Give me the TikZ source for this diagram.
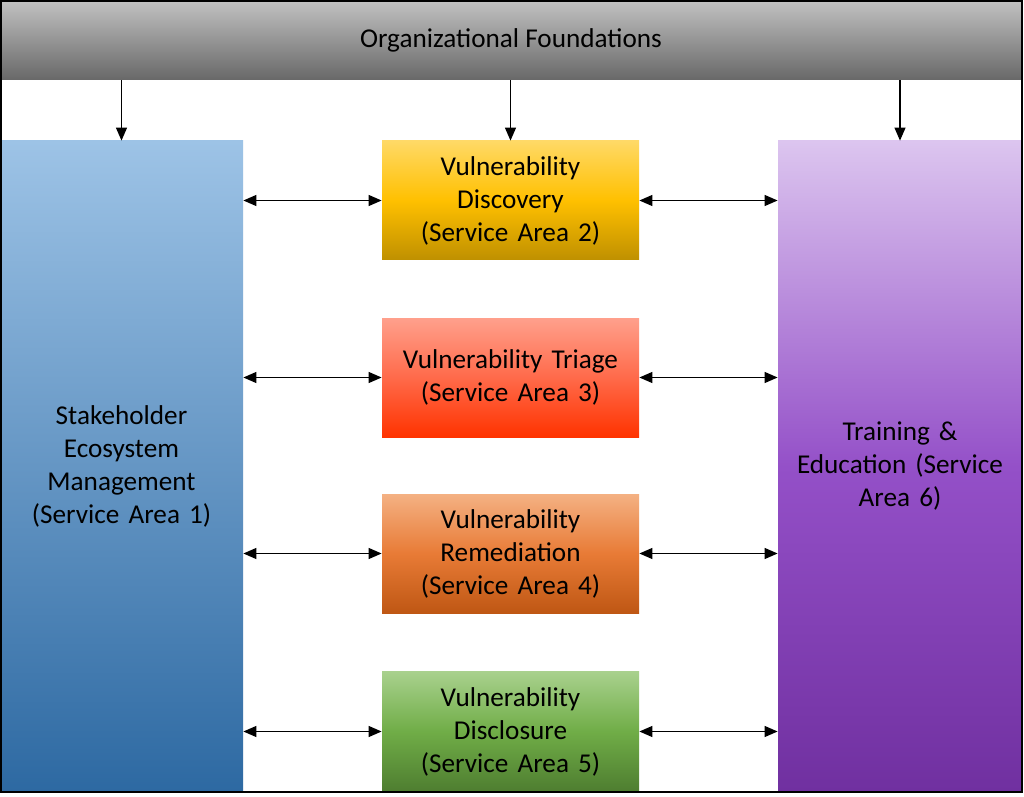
\documentclass[tikz,border=0pt]{standalone}
\usepackage{fontspec}
\setmainfont{Carlito}
\usetikzlibrary{arrows.meta, positioning}
\definecolor{barTop}{HTML}{C2C2C2}
\definecolor{barBot}{HTML}{686868}
\definecolor{blueTop}{HTML}{9DC3E6}
\definecolor{blueBot}{HTML}{2D69A2}
\definecolor{purpTop}{HTML}{DCC5EF}
\definecolor{purpMid}{HTML}{9450C8}
\definecolor{purpBot}{HTML}{7030A0}
\definecolor{yelTop}{HTML}{FFD966}
\definecolor{yelMid}{HTML}{FFC000}
\definecolor{yelBot}{HTML}{BF9000}
\definecolor{redTop}{HTML}{FFA08C}
\definecolor{redMid}{HTML}{FF6A4A}
\definecolor{redBot}{HTML}{FF3300}
\definecolor{oraTop}{HTML}{F4B183}
\definecolor{oraMid}{HTML}{E87B36}
\definecolor{oraBot}{HTML}{BF5714}
\definecolor{grnTop}{HTML}{A9D18E}
\definecolor{grnMid}{HTML}{70AD47}
\definecolor{grnBot}{HTML}{4E7D30}
\tikzstyle{area} = [rectangle, inner sep=2pt, text centered, align=center, font=\fontsize{13.6pt}{16.5pt}\selectfont]
\tikzstyle{sidearea} = [area, minimum width=121.5pt, minimum height=325.5pt, text width=115pt]
\tikzstyle{midarea} = [area, minimum width=128.5pt, minimum height=59.5pt, text width=124pt]
\tikzstyle{down} = [line width=0.6pt, -{Triangle[length=6.5pt,width=5.5pt]}]
\tikzstyle{both} = [line width=0.6pt, {Triangle[length=6.5pt,width=5.5pt]}-{Triangle[length=6.5pt,width=5.5pt]}]

\begin{document}
\begin{tikzpicture}[x=1pt, y=1pt]
        \useasboundingbox (0,0) rectangle (512,-398.5);
        \fill[white] (0,0) rectangle (512,-398.5);

        \node (bar) [area, minimum width=511pt, minimum height=40pt, top color=barTop, bottom color=barBot] at (255.5,-20) {Organizational Foundations};
        \node (sa1) [sidearea, top color=blueTop, bottom color=blueBot] at (60.75,-233.25) {Stakeholder\\Ecosystem\\Management\\(Service Area 1)};
        \node (sa6) [sidearea, minimum width=122pt, top color=purpTop, bottom color=purpBot, middle color=purpMid] at (450,-233.25) {Training \&\\Education (Service\\Area 6)};
        \node (sa2) [midarea, top color=yelTop, bottom color=yelBot, middle color=yelMid] at (255.25,-100.25) {Vulnerability\\Discovery\\(Service Area 2)};
        \node (sa3) [midarea, top color=redTop, bottom color=redBot, middle color=redMid] at (255.25,-188.75) {Vulnerability Triage\\(Service Area 3)};
        \node (sa4) [midarea, top color=oraTop, bottom color=oraBot, middle color=oraMid] at (255.25,-276.75) {Vulnerability\\Remediation\\(Service Area 4)};
        \node (sa5) [midarea, minimum height=60.5pt, top color=grnTop, bottom color=grnBot, middle color=grnMid] at (255.25,-365.75) {Vulnerability\\Disclosure\\(Service Area 5)};

        \draw [down] (bar.south -| sa1.north) -- (sa1.north);
        \draw [down] (bar.south -| sa2.north) -- (sa2.north);
        \draw [down] (bar.south -| sa6.north) -- (sa6.north);

        \foreach \n in {sa2, sa3, sa4, sa5} {
            \draw [both] (\n.west -| sa1.east) -- (\n.west);
            \draw [both] (\n.east) -- (\n.east -| sa6.west);
        }

        \draw [line width=0.8pt] (0.4,-0.4) rectangle (511,-396);
    \end{tikzpicture}
\end{document}
